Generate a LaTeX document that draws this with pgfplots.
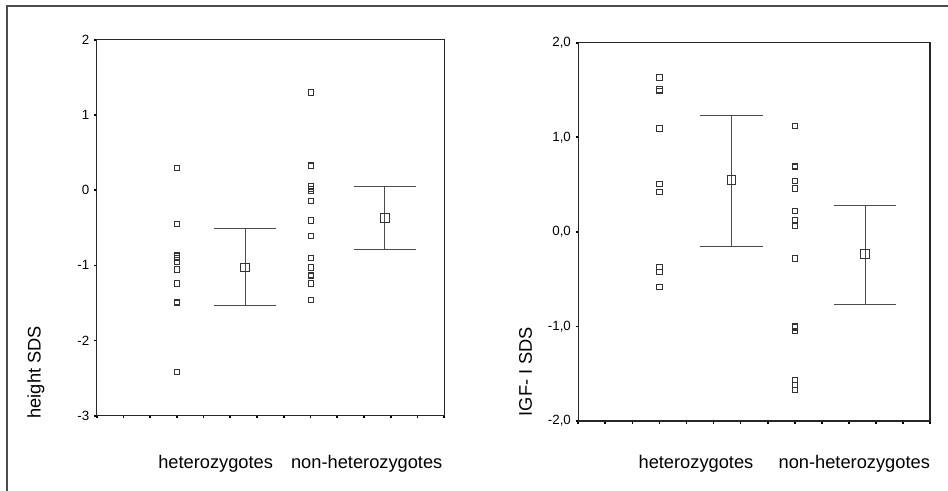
\documentclass[border=0pt]{standalone}
\usepackage{pgfplots}
\pgfplotsset{compat=1.18}
\usepackage{fontspec}
\setmainfont{Liberation Sans}
\pgfplotsset{
  spss/.style={
    scale only axis, xmin=0, xmax=13,
    xtick={0,...,13}, xticklabels={},
    tick align=outside, tick pos=left,
    major tick length=2pt,
    every tick/.style={black, line width=1.3pt},
    axis line style={black!85, line width=0.8pt},
    tick label style={font=\fontsize{10}{12}\selectfont},
    ylabel style={font=\fontsize{13.7}{16}\selectfont, anchor=west},
    extra x tick style={major tick length=0pt, tick label style={font=\fontsize{13.7}{16}\selectfont}},
    clip=false,
  },
  pts/.style={only marks, mark=square, mark size=2pt, mark options={black!80, line width=0.6pt, fill=white}},
  mn/.style={only marks, black!70, mark=square, mark size=3.2pt, mark options={black!80, line width=0.7pt, fill=none},
    error bars/.cd, y dir=both, y explicit, error mark=|,
    error mark options={mark size=23.5pt, line width=0.7pt, black!70},
    error bar style={line width=0.7pt, black!70}},
}
\begin{document}
\begin{tikzpicture}
\path[use as bounding box] (0,0) rectangle (711pt,368.25pt);
\draw[black!70, line width=0.8pt] (711pt,363.75pt) -- (5.25pt,363.75pt) -- (5.25pt,0pt);

% left panel
\begin{axis}[spss, at={(72.5pt,56.5pt)}, anchor=south west,
  width=260.7pt, height=281.8pt,
  ymin=-3, ymax=2, ytick={-3,-2,-1,0,1,2}, yticklabels={-3,-2,-1,0,1,2},
  ylabel={height SDS}, ylabel style={at={(axis description cs:-0.175,-0.02)}},
  extra x ticks={4.45,10.1}, extra x tick labels={heterozygotes,non-heterozygotes},
  extra x tick style={tick label style={yshift=-26pt}}]
\addplot[pts] coordinates {
 (3,0.297) (3,-0.446) (3,-0.86) (3,-0.88) (3,-0.90) (3,-0.95) (3,-1.053)
 (3,-1.239) (3,-1.49) (3,-1.50) (3,-2.417)};
\addplot[pts] coordinates {
 (8,1.301) (8,0.332) (8,0.322) (8,0.053) (8,0.02) (8,-0.013) (8,-0.141)
 (8,-0.402) (8,-0.606) (8,-0.898) (8,-1.027) (8,-1.13) (8,-1.14) (8,-1.239) (8,-1.461)};
\addplot[mn] coordinates {(5.55,-1.03) += (0,0.521) -= (0,0.501)};
\addplot[mn] coordinates {(10.78,-0.367) += (0,0.42) -= (0,0.421)};
\end{axis}

% right panel
\begin{axis}[spss, at={(433.7pt,52.5pt)}, anchor=south west,
  width=263.8pt, height=283.7pt,
  ymin=-2, ymax=2, ytick={-2,-1,0,1,2}, yticklabels={{-2,0},{-1,0},{0,0},{1,0},{2,0}},
  ylabel={IGF- I SDS}, ylabel style={at={(axis description cs:-0.15,0)}},
  extra x ticks={4.35,10.2}, extra x tick labels={heterozygotes,non-heterozygotes},
  extra x tick style={tick label style={yshift=-22pt}}]
\addplot[pts] coordinates {
 (3,1.635) (3,1.505) (3,1.49) (3,1.093) (3,0.504) (3,0.423) (3,-0.37) (3,-0.423) (3,-0.581)};
\addplot[pts] coordinates {
 (8,1.117) (8,0.694) (8,0.69) (8,0.536) (8,0.458) (8,0.222) (8,0.124) (8,0.063)
 (8,-0.281) (8,-1.0) (8,-1.01) (8,-1.045) (8,-1.568) (8,-1.621) (8,-1.674)};
\addplot[mn] coordinates {(5.67,0.547) += (0,0.679) -= (0,0.698)};
\addplot[mn] coordinates {(10.6,-0.236) += (0,0.518) -= (0,0.528)};
\end{axis}
\end{tikzpicture}
\end{document}
